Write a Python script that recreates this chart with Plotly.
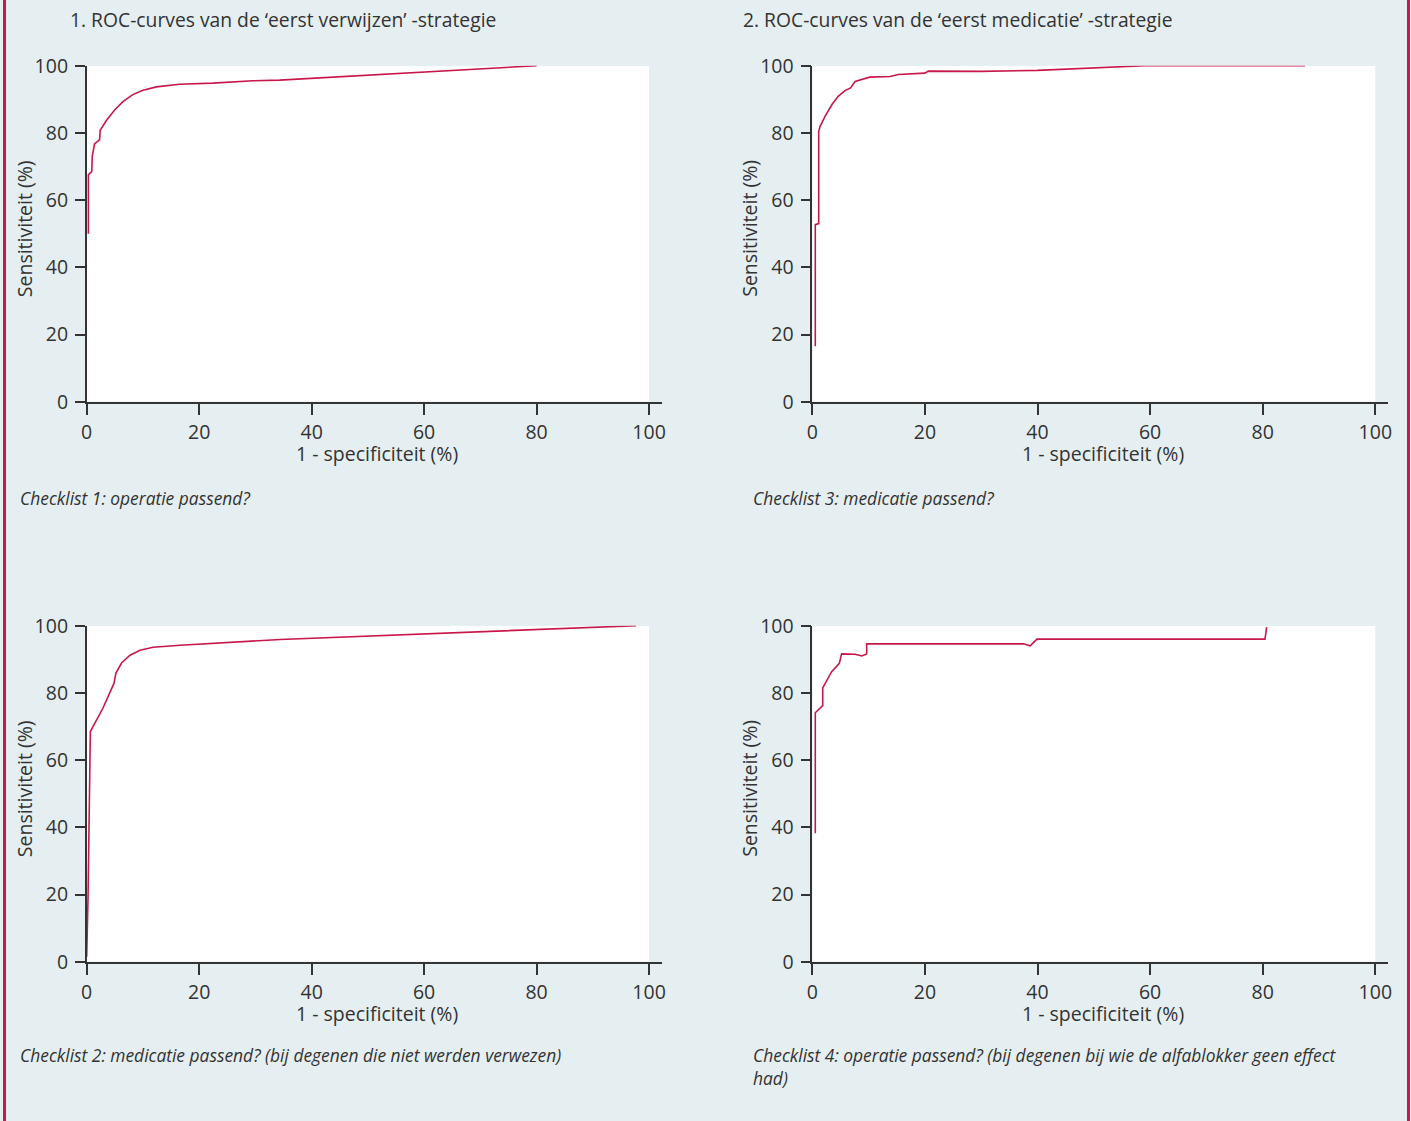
import plotly.graph_objects as go

# ---------------- data ----------------
fpr_1 = [0.3, 0.3, 0.9, 1.0, 1.4, 2.3, 2.4, 3.5, 5.0, 6.5, 8.2, 10.0, 12.4, 16.5, 22.4, 29.6, 34.3, 55.7, 80.0]
sens_1 = [50.0, 67.6, 68.5, 73.2, 76.7, 78.0, 80.8, 83.7, 86.9, 89.4, 91.4, 92.7, 93.7, 94.5, 94.8, 95.5, 95.7, 97.8, 100.0]

fpr_2 = [0.53, 0.53, 1.14, 1.14, 1.37, 2.26, 3.55, 4.6, 5.8, 6.8, 7.6, 9.06, 10.2, 13.8, 15.3, 20.0, 20.6, 30.0, 33.3, 40.0, 59.0, 87.5]
sens_2 = [16.5, 52.7, 53.0, 80.4, 81.9, 84.9, 88.6, 90.9, 92.6, 93.4, 95.3, 96.1, 96.6, 96.8, 97.4, 97.8, 98.4, 98.3, 98.4, 98.6, 100.0, 100.0]

fpr_3 = [0.0, 0.24, 0.65, 2.9, 4.86, 5.2, 6.2, 7.7, 9.5, 11.8, 16.6, 34.4, 97.7]
sens_3 = [1.5, 19.4, 68.5, 75.5, 82.9, 85.9, 88.9, 91.2, 92.7, 93.6, 94.2, 95.9, 100.0]

fpr_4 = [0.53, 0.53, 1.85, 1.85, 3.44, 4.8, 5.2, 7.6, 8.8, 9.66, 9.66, 37.5, 38.7, 39.9, 80.4, 80.6, 80.7]
sens_4 = [38.2, 74.1, 76.2, 81.5, 86.3, 88.8, 91.6, 91.5, 91.0, 91.6, 94.6, 94.6, 94.0, 96.0, 96.0, 99.0, 99.6]

x_ticks = [0, 20, 40, 60, 80, 100]
y_ticks = [0, 20, 40, 60, 80, 100]

titles = ["1. ROC-curves van de \u2018eerst verwijzen\u2019 -strategie",
          "2. ROC-curves van de \u2018eerst medicatie\u2019 -strategie"]
captions = ["Checklist 1: operatie passend?",
            "Checklist 3: medicatie passend?",
            "Checklist 2: medicatie passend? (bij degenen die niet werden verwezen)",
            "Checklist 4: operatie passend? (bij degenen bij wie de alfablokker geen effect<br>had)"]
x_title = "1 - specificiteit (%)"
y_title = "Sensitiviteit (%)"

# ---------------- styling ----------------
W, H = 1411, 1121
BG = "#e5eef1"
RED = "#c8174b"
AX = "#333333"
FONT = "Open Sans"

fig = go.Figure()

# panel geometry in pixels: (left, right, top, bottom)
panels = [
    (86.7, 661.7, 65.7, 401.7),    # top-left
    (812.3, 1388.0, 65.7, 401.7),  # top-right
    (86.7, 661.7, 625.7, 961.7),   # bottom-left
    (812.3, 1388.0, 625.7, 961.7), # bottom-right
]
series = [(fpr_1, sens_1), (fpr_2, sens_2), (fpr_3, sens_3), (fpr_4, sens_4)]

x_max = 102.25

for i, ((l, r, t, b), (xs, ys)) in enumerate(zip(panels, series)):
    n = "" if i == 0 else str(i + 1)
    xa = "x" + n
    ya = "y" + n
    fig.add_trace(go.Scatter(x=xs, y=ys, mode="lines",
                             line=dict(color=RED, width=1.6),
                             xaxis=xa, yaxis=ya, showlegend=False,
                             hoverinfo="skip"))
    fig.update_layout(**{
        "xaxis" + n: dict(domain=[l / W, r / W], range=[0, x_max],
                          anchor=ya, tickvals=x_ticks, automargin=False,
                          ticks="outside", ticklen=12, tickwidth=1.5,
                          tickcolor=AX, showline=True, linecolor=AX,
                          linewidth=1.5, showgrid=False, zeroline=False,
                          tickfont=dict(family=FONT, size=19.5, color=AX),
                          fixedrange=True),
        "yaxis" + n: dict(domain=[1 - b / H, 1 - t / H], range=[0, 100],
                          anchor=xa, tickvals=y_ticks, automargin=False,
                          ticks="outside", ticklen=10, tickwidth=1.5,
                          ticklabelstandoff=3,
                          tickcolor=AX, showline=True, linecolor=AX,
                          linewidth=1.5, showgrid=False, zeroline=False,
                          tickfont=dict(family=FONT, size=19.5, color=AX),
                          fixedrange=True),
    })
    # white plot region from 0 to 100 on both axes
    fig.add_shape(type="rect", xref=xa, yref=ya, x0=0, x1=100, y0=0, y1=100,
                  fillcolor="white", line=dict(width=0), layer="below")
    # y-axis title
    fig.add_annotation(text=y_title, xref="paper", yref="paper",
                       x=(l - 62.2) / W, y=1 - ((t + b) / 2 - 5) / H,
                       xanchor="center", yanchor="middle", textangle=-90,
                       showarrow=False,
                       font=dict(family=FONT, size=19.5, color=AX))
    # x-axis title
    fig.add_annotation(text=x_title, xref="paper", yref="paper",
                       x=(l + 290.3) / W, y=1 - (b + 52) / H,
                       xanchor="center", yanchor="middle",
                       showarrow=False,
                       font=dict(family=FONT, size=19.5, color=AX))

# panel titles
for txt, xpx in zip(titles, [68, 741]):
    fig.add_annotation(text=txt, xref="paper", yref="paper",
                       x=xpx / W, y=1 - 20 / H, xanchor="left", yanchor="middle",
                       showarrow=False,
                       font=dict(family=FONT, size=19.3, color=AX))

# captions
cap_pos = [(18, 495), (751, 495), (18, 1052), (751, 1052)]
for txt, (xp, yp) in zip(captions, cap_pos):
    fig.add_annotation(text="<i>" + txt + "</i>", xref="paper", yref="paper",
                       x=xp / W, y=1 - (yp - 11) / H, xanchor="left", yanchor="top",
                       showarrow=False, align="left",
                       font=dict(family=FONT, size=17.4, color=AX))

# red side borders
for xp in [4.5, 1408.5]:
    fig.add_shape(type="line", xref="paper", yref="paper",
                  x0=xp / W, x1=xp / W, y0=0, y1=1,
                  line=dict(color=RED, width=3))

fig.update_layout(width=W, height=H,
                  margin=dict(l=0, r=0, t=0, b=0, pad=0, autoexpand=False),
                  paper_bgcolor=BG, plot_bgcolor=BG,
                  font=dict(family=FONT, color=AX))

fig.write_html("out.html", config={"displayModeBar": False},
               post_script="document.body.style.margin='0';"
                           "document.body.style.overflow='hidden';")
